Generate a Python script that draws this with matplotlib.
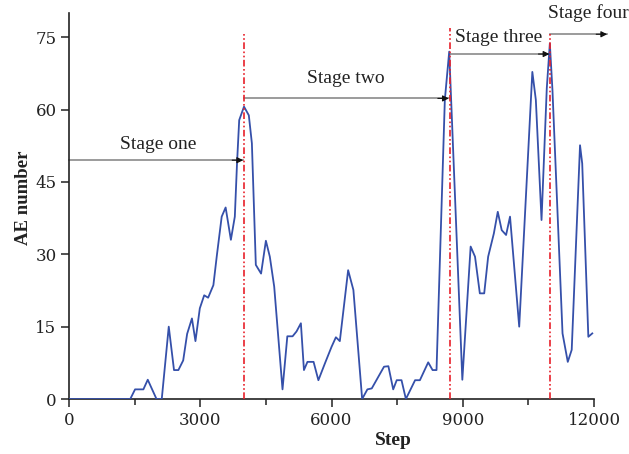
import matplotlib
matplotlib.use("Agg")
import matplotlib.pyplot as plt

plt.rcParams['font.family'] = ['Liberation Serif', 'DejaVu Serif']

# AE counts
steps = [0, 1400, 1510, 1700, 1800, 2000, 2120, 2280, 2400, 2500,
         2610, 2700, 2810, 2890, 2990, 3090, 3180, 3300, 3380, 3490,
         3580, 3700, 3790, 3840, 3890, 4000, 4110, 4180, 4270, 4390,
         4500, 4590, 4690, 4880, 4990, 5110, 5200, 5300, 5370, 5450,
         5590, 5700, 5850, 6000, 6100, 6190, 6380, 6500, 6700, 6820,
         6920, 7200, 7300, 7410, 7490, 7600, 7700, 7910, 8020, 8210,
         8310, 8400, 8590, 8690, 8990, 9180, 9280, 9390, 9490, 9580,
         9710, 9800, 9890, 9990, 10080, 10290, 10590, 10670, 10800, 10920,
         10990, 11050, 11280, 11400, 11490, 11680, 11730, 11870, 11960]
ae_number = [0, 0, 2, 2, 4, 0, 0, 15, 6, 6,
             8, 13.5, 16.7, 12, 18.8, 21.5, 21, 23.6, 29.8, 37.8,
             39.7, 33, 37.8, 48.8, 57.8, 60.6, 58.8, 53, 27.8, 26,
             32.8, 29.5, 23.3, 2, 13, 13, 14, 15.7, 6, 7.7,
             7.7, 3.9, 7.4, 10.8, 12.8, 12, 26.7, 22.6, 0, 2,
             2.2, 6.7, 6.8, 2, 3.9, 3.9, 0, 3.9, 3.9, 7.6,
             6, 6, 62, 72, 4, 31.6, 29.5, 21.9, 21.9, 29.5,
             34.3, 38.8, 35, 34, 37.8, 15, 67.8, 62, 37.1, 64.4,
             73.7, 64, 13.6, 7.7, 10.2, 52.6, 48.8, 12.9, 13.6]

# stage boundaries and the arrows between them
boundaries = [4000, 8700, 11000]
boundary_top = [76, 77, 76]
stage_names = ["Stage one", "Stage two", "Stage three", "Stage four"]
arrow_start = [0, 4000, 8700, 11000]
arrow_end = [3980, 8680, 10980, 12300]
arrow_y = [49.5, 62.3, 71.5, 75.6]
label_x = [2040, 6320, 9830, 11860]
label_y = [51.9, 65.4, 74.0, 78.9]

fig = plt.figure(figsize=(6.29, 4.54), dpi=100)
ax = fig.add_axes([0.1097, 0.1211, 0.8347, 0.8502])

ax.plot(steps, ae_number, color='#3550aa', lw=1.3, zorder=3)

for xb, top in zip(boundaries, boundary_top):
    ax.plot([xb, xb], [0, top], color='#e8202a', lw=1.2,
            dashes=(4, 1.5, 1, 1.5, 1, 1.5), zorder=4)

for name, x0, x1, y, tx, ty in zip(stage_names, arrow_start, arrow_end,
                                   arrow_y, label_x, label_y):
    ax.plot([x0, x1], [y, y], color='#8a8a8a', lw=1.2, clip_on=False, zorder=2)
    ax.annotate("", xy=(x1, y), xytext=(x1 - 250, y),
                arrowprops=dict(arrowstyle='-|>', color='#111111', lw=0.8,
                                mutation_scale=9, shrinkA=0, shrinkB=0),
                annotation_clip=False, zorder=5)
    ax.text(tx, ty, name, ha='center', va='baseline', fontsize=14,
            color='#222222', clip_on=False)

ax.set_xlim(0, 12000)
ax.set_ylim(0, 80)
ax.set_xticks([0, 3000, 6000, 9000, 12000])
ax.set_xticks([1500, 4500, 7500, 10500], minor=True)
ax.set_yticks([0, 15, 30, 45, 60, 75])

for side in ('top', 'right'):
    ax.spines[side].set_visible(False)
for side in ('left', 'bottom'):
    ax.spines[side].set_linewidth(1.2)
    ax.spines[side].set_color('#222222')

ax.tick_params(axis='both', which='major', direction='out', length=6,
               width=1.1, pad=3, labelsize=12, colors='#222222',
               labelfontfamily='DejaVu Serif')
ax.tick_params(axis='x', which='minor', direction='out', length=4, width=1.1,
               colors='#222222')

ax.set_xlabel("Step", fontsize=14, fontweight='bold', color='#222222')
ax.set_ylabel("AE number", fontsize=13.5, fontweight='bold', color='#222222')
ax.xaxis.set_label_coords(0.618, -0.085)
ax.yaxis.set_label_coords(-0.071, 0.522)

fig.savefig("out.png", dpi=100)
